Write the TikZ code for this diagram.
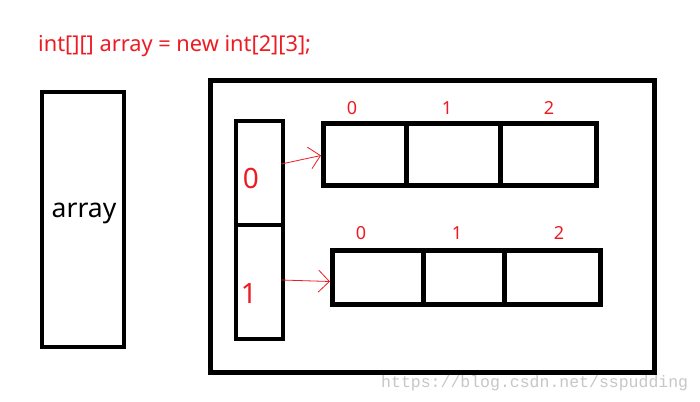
\documentclass[tikz,border=0pt]{standalone}
\usepackage{fontspec}
\setmainfont{Noto Sans}
\setmonofont{Liberation Mono}
\usetikzlibrary{positioning,arrows.meta}
\definecolor{paintred}{RGB}{237,28,36}
\tikzset{
  % boxes (line width = stroke of the paint brush)
  frame/.style={draw,line width=4.5pt,inner sep=0pt},
  slot/.style={draw,line width=4.5pt,inner sep=0pt,minimum width=47pt},
  cell/.style={draw,line width=5pt,inner sep=0pt},
  % red texts
  code/.style={text=paintred,font=\fontsize{21.8}{21.8}\selectfont},
  idx/.style={text=paintred,font=\fontsize{18}{18}\selectfont,inner sep=0pt},
  bigidx/.style={text=paintred,font=\fontsize{28}{28}\selectfont,inner sep=0pt},
  % reference arrow
  ptr/.style={draw=paintred,line width=0.8pt,-{Straight Barb[length=11pt,width=22pt]}},
  watermark/.style={text=black!22,font=\ttfamily\fontsize{16.5}{16.5}\selectfont,inner sep=0pt},
}
\begin{document}
\begin{tikzpicture}[x=1pt,y=-1pt]
  \useasboundingbox[fill=white] (0,0) rectangle (700,401);
  % declaration
  \node[code,anchor=base west,inner sep=0pt] (decl) at (38,52) {int[][] array = new int[2][3];};
  % the variable
  \node[frame,minimum width=82pt,minimum height=255pt] (array) at (83,219.5) {};
  \node[font=\fontsize{26.5}{26.5}\selectfont,anchor=base,inner sep=0pt] (name) at (84,217) {array};
  % heap
  \node[frame,line width=5pt,minimum width=444pt,minimum height=292pt] (heap) at (432.5,226.5) {};
  % outer array
  \node[slot,minimum height=104pt] (col0) at (259.5,173) {};
  \node[slot,minimum height=114pt] (col1) at (259.5,282) {};
  \node[bigidx] (n0) at (251,178) {0};
  \node[bigidx] (n1) at (249,293) {1};
  % first row
  \node[cell,minimum width=82.5pt,minimum height=62pt] (r0c0) at (364.75,154.5) {};
  \node[cell,minimum width=94pt,minimum height=62pt] (r0c1) at (453,154.5) {};
  \node[cell,minimum width=96.5pt,minimum height=62pt] (r0c2) at (548.25,154.5) {};
  \node[idx] (i00) at (352,108) {0};
  \node[idx] (i01) at (447,108) {1};
  \node[idx] (i02) at (549,108) {2};
  % second row
  \node[cell,minimum width=90.5pt,minimum height=54pt] (r1c0) at (377.75,277.5) {};
  \node[cell,minimum width=81pt,minimum height=54pt] (r1c1) at (463.5,277.5) {};
  \node[cell,minimum width=96.5pt,minimum height=54pt] (r1c2) at (552.25,277.5) {};
  \node[idx] (i10) at (361,233) {0};
  \node[idx] (i11) at (457,233) {1};
  \node[idx] (i12) at (559,233) {2};
  % references
  \draw[ptr] ([xshift=-4pt,yshift=9pt]col0.east) -- ([yshift=-1pt]r0c0.west);
  \draw[ptr] ([xshift=-4pt,yshift=2pt]col1.east) -- ([yshift=-4pt]r1c0.west);
  % watermark
  \node[watermark,anchor=base west] (src) at (381,387) {https://blog.csdn.net/sspudding};
\end{tikzpicture}
\end{document}
